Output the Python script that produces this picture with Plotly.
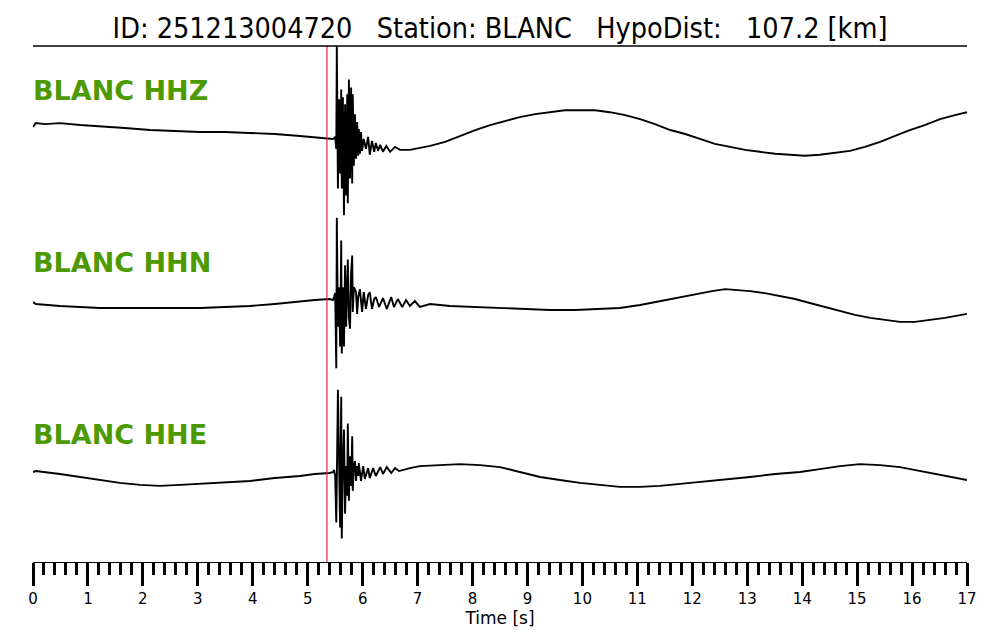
import plotly.graph_objects as go

# ---------------- data ----------------
station = "BLANC"
event_id = "251213004720"
hypo_dist_km = 107.2
p_pick = 5.35  # s

channels = ["HHZ", "HHN", "HHE"]

t_hhz = [0.00, 0.05, 0.22, 0.49, 0.86, 1.22, 1.67, 2.13, 2.58, 3.04, 3.49, 3.95, 4.40, 4.86, 5.22, 5.46,
         5.50, 5.52, 5.53, 5.55, 5.57, 5.59, 5.61, 5.62, 5.64, 5.66, 5.68, 5.70, 5.72, 5.73, 5.75, 5.77,
         5.79, 5.81, 5.82, 5.84, 5.86, 5.88, 5.90, 5.92, 5.93, 5.95, 5.97, 5.99, 6.02, 6.06, 6.10, 6.13,
         6.17, 6.21, 6.24, 6.28, 6.32, 6.37, 6.43, 6.50, 6.59, 6.68,
         6.86, 7.23, 7.50, 7.77, 8.05, 8.32, 8.59, 8.86, 9.14, 9.41, 9.68, 9.96, 10.23, 10.50, 10.78,
         11.05, 11.32, 11.60, 11.87, 12.14, 12.41, 12.69, 12.96, 13.23, 13.51, 13.78, 14.05, 14.32,
         14.60, 14.87, 15.14, 15.42, 15.69, 15.96, 16.23, 16.51, 16.78, 17.00]
a_hhz = [5, 9, 8, 9, 7, 6, 4, 2, 1, 0, 0, -1, -2, -4, -6, -7,
         -5, -17, 87, -57, 33, -42, 43, -57, 35, -84, 28, -64, 38, -72, 53, -47,
         45, -52, 38, -34, 18, -27, 10, -24, 3, -22, 0, -19, -7, -17, -5, -23,
         -9, -20, -11, -19, -13, -20, -14, -20, -15, -18,
         -18, -14, -10, -4, 2, 7, 11, 15, 18, 20, 22, 22, 22, 20, 17,
         13, 8, 2, -2, -7, -12, -15, -18, -20, -22, -23, -24, -23,
         -21, -19, -15, -10, -4, 2, 7, 13, 17, 20]

t_hhn = [0.00, 0.05, 0.49, 0.86, 1.22, 1.67, 2.13, 2.58, 3.04, 3.49, 3.95, 4.40, 4.86, 5.13, 5.40,
         5.46, 5.48, 5.50, 5.52, 5.53, 5.55, 5.57, 5.59, 5.61, 5.62, 5.64, 5.66, 5.68, 5.70, 5.72,
         5.73, 5.75, 5.77, 5.79, 5.81, 5.82, 5.84, 5.88, 5.90, 5.92, 5.95, 5.99, 6.02, 6.06, 6.10,
         6.13, 6.17, 6.21, 6.24, 6.30, 6.37, 6.44, 6.52, 6.57, 6.64, 6.72, 6.79, 6.86, 6.95, 7.04,
         7.23, 7.59, 8.05, 8.50, 8.96, 9.41, 9.87, 10.32, 10.68, 11.05, 11.32, 11.60, 11.87, 12.14,
         12.36, 12.60, 12.83, 13.05, 13.32, 13.60, 13.87, 14.14, 14.42, 14.69, 14.96, 15.24, 15.51,
         15.78, 16.05, 16.33, 16.60, 17.00]
a_hhn = [2, 0, -2, -3, -4, -4, -4, -4, -4, -3, -2, 0, 3, 4, 5,
         4, 7, 11, -65, 87, -23, 17, -43, 64, -50, 17, -43, 39, -23, 27,
         45, -13, -25, 32, 49, -8, 17, 12, -10, 7, 15, -8, 12, -5, 9,
         12, -5, 5, 7, -3, 6, -5, 7, -3, 5, -3, 4, -2, 3, -3,
         0, -2, -3, -4, -5, -6, -6, -5, -4, -1, 2, 5, 8, 11,
         13, 15, 14, 13, 11, 8, 5, 1, -3, -7, -11, -14, -16,
         -18, -18, -16, -14, -10]

t_hhe = [0.00, 0.05, 0.49, 0.86, 1.22, 1.58, 1.95, 2.31, 2.68, 3.04, 3.49, 3.95, 4.40, 4.86, 5.13, 5.40,
         5.46, 5.48, 5.50, 5.52, 5.55, 5.57, 5.59, 5.61, 5.62, 5.64, 5.66, 5.68, 5.70, 5.72, 5.73, 5.75,
         5.77, 5.79, 5.81, 5.82, 5.84, 5.86, 5.88, 5.90, 5.92, 5.93, 5.97, 6.01, 6.04, 6.10, 6.13, 6.19,
         6.24, 6.32, 6.37, 6.44, 6.52, 6.59, 6.66,
         6.86, 7.04, 7.41, 7.77, 8.14, 8.50, 8.86, 9.23, 9.59, 9.96, 10.32, 10.68, 11.05, 11.41, 11.78,
         12.14, 12.60, 13.05, 13.51, 13.96, 14.32, 14.69, 15.05, 15.42, 15.78, 16.15, 16.51, 16.78, 17.00]
a_hhe = [4, 5, 2, -1, -4, -7, -9, -10, -9, -8, -6, -5, -2, 0, 2, 3,
         4, 6, 0, -47, 87, 10, -52, 80, -63, 10, 47, -38, 10, -20, 53, -25,
         20, -10, 40, -15, 10, 15, -5, 10, 0, 13, -5, 10, -3, 8, -2, 8,
         0, 9, 2, 9, 3, 8, 5,
         8, 10, 11, 12, 11, 9, 4, -1, -4, -7, -9, -11, -11, -10, -8,
         -6, -4, -1, 2, 4, 7, 10, 12, 11, 9, 5, 1, -2, -4]

tick_vals = list(range(0, 18))
tick_text = [str(v) for v in tick_vals]

# ---------------- figure ----------------
series = [(t_hhz, a_hhz), (t_hhn, a_hhn), (t_hhe, a_hhe)]
n = len(channels)
band_scale = 173.67  # amplitude units per band

# the page body has an 8 px margin, so the figure is sized to fit inside it
W, H = 984, 624

fig = go.Figure()
for i, (ch, (tt, aa)) in enumerate(zip(channels, series)):
    center = n - 0.5 - i
    fig.add_trace(go.Scatter(
        x=tt, y=[center + v / band_scale for v in aa],
        mode="lines", line=dict(color="black", width=1.9),
        hoverinfo="skip", showlegend=False))
    fig.add_annotation(
        x=0, xref="x", y=center + 0.24, yref="y",
        text=f"<b>{station} {ch}</b>", showarrow=False,
        xanchor="left", yanchor="middle", xshift=-2,
        font=dict(family="DejaVu Sans", size=27, color="#4c9a00"))

fig.add_shape(type="line", x0=p_pick, x1=p_pick, y0=0, y1=n, xref="x", yref="y",
              line=dict(color="#e8202a", width=1.2))
fig.add_shape(type="line", x0=0, x1=1, y0=1, y1=1, xref="paper", yref="paper",
              line=dict(color="black", width=1.5))

sp = "\u00a0\u00a0\u00a0"
title = f"ID: {event_id}{sp}Station: {station}{sp}HypoDist:{sp}{hypo_dist_km:.1f} [km]"

fig.update_layout(
    width=W, height=H,
    margin=dict(l=25, r=25, t=38, b=65),
    paper_bgcolor="white", plot_bgcolor="white",
    title=dict(text=title, x=0.5, xanchor="center", y=1 - 20 / H, yanchor="middle",
               font=dict(family="DejaVu Sans Condensed, DejaVu Sans", size=28.5, color="black")),
    xaxis=dict(range=[0, 17], showgrid=False, zeroline=False,
               showline=True, linecolor="black", linewidth=1,
               tickmode="array", tickvals=tick_vals, ticktext=tick_text,
               ticks="outside", ticklen=23, tickwidth=3, tickcolor="black",
               minor=dict(ticks="outside", dtick=0.2, ticklen=12, tickwidth=3, tickcolor="black"),
               tickfont=dict(family="DejaVu Sans", size=15, color="black"),
               title=dict(text="Time [s]", font=dict(family="DejaVu Sans", size=17, color="black"),
                          standoff=0)),
    yaxis=dict(range=[0, n], visible=False, showgrid=False, zeroline=False),
)

fig.write_html("out.html")
